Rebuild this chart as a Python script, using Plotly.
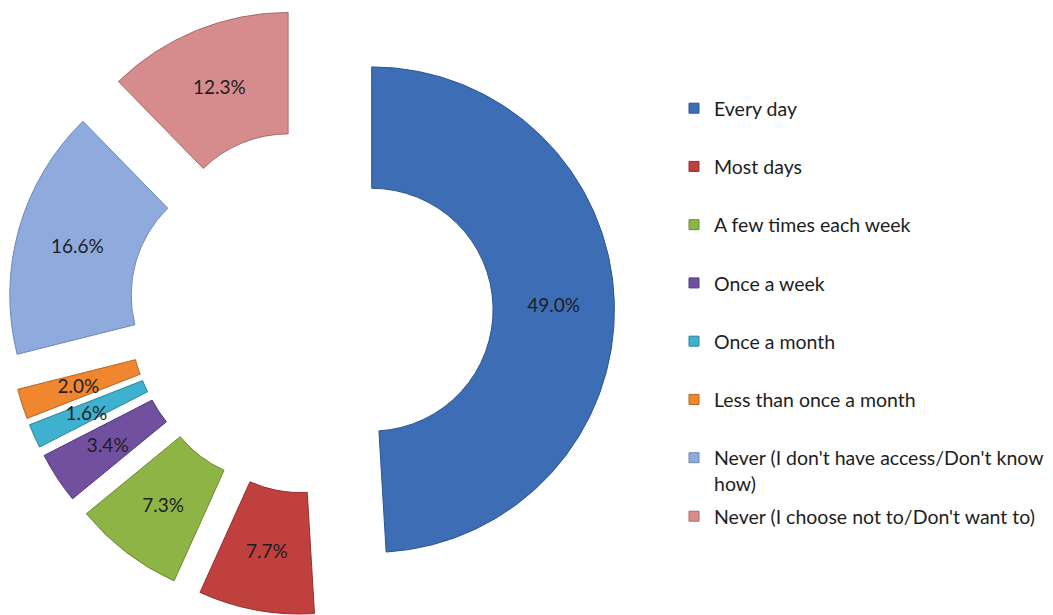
import plotly.graph_objects as go

# ---------------- data ----------------
categories = [
    "Every day",
    "Most days",
    "A few times each week",
    "Once a week",
    "Once a month",
    "Less than once a month",
    "Never (I don't have access/Don't know how)",
    "Never (I choose not to/Don't want to)",
]
legend_labels = [
    "Every day",
    "Most days",
    "A few times each week",
    "Once a week",
    "Once a month",
    "Less than once a month",
    "Never (I don't have access/Don't know<br>how)",
    "Never (I choose not to/Don't want to)",
]
values = [49.0, 7.7, 7.3, 3.4, 1.6, 2.0, 16.6, 12.3]
colors = ["#3D6EB5", "#BF403D", "#8DB444", "#7150A0",
          "#3DB1CD", "#F0872F", "#8FAADC", "#D68C8C"]
edge_colors = ["#2E5590", "#923130", "#6C8A33", "#55397D",
               "#2C869C", "#B86522", "#6F88B5", "#A86B6B"]

# ---------------- layout geometry ----------------
W, H = 1053, 615
M_T, M_B, M_L, M_R = 8, 0, 0, 0
PW, PH = W - M_L - M_R, H - M_T - M_B
CX = 311.0                     # pie centre (px)
PULL = 0.25
HOLE = 0.5
R_MAIN = PH / (2 + 2 * PULL)
PULL_PX = PULL * R_MAIN

# transparent overlay pie used only to place the labels of the thin slices mid-ring
R_TEXT = 195.0
HOLE_TEXT = 0.87
PULL_TEXT = PULL_PX / R_TEXT
S2 = 2 * R_TEXT * (1 + PULL_TEXT)

FONT = "Lato, 'Open Sans', sans-serif"
LABEL_SIZE = 19
LEGEND_SIZE = 19.5
TPL = "%{value:.1f}%"
wide = [v >= 10 for v in values]

fig = go.Figure()

fig.add_trace(go.Pie(
    labels=categories, values=values, sort=False, direction="clockwise",
    rotation=0, hole=HOLE, pull=[PULL] * len(values),
    marker=dict(colors=colors, line=dict(color=edge_colors, width=1)),
    texttemplate=[TPL if w else "" for w in wide], textposition="inside",
    insidetextorientation="horizontal",
    textfont=dict(family=FONT, size=LABEL_SIZE, color="#1E1E1E"),
    showlegend=False, hoverinfo="label+value",
    domain=dict(x=[(CX - PH / 2 - M_L) / PW, (CX + PH / 2 - M_L) / PW], y=[0, 1]),
))

fig.add_trace(go.Pie(
    labels=categories, values=values, sort=False, direction="clockwise",
    rotation=0, hole=HOLE_TEXT, pull=[PULL_TEXT] * len(values),
    marker=dict(colors=["rgba(0,0,0,0)"] * len(values), line=dict(width=0)),
    texttemplate=["" if w else TPL for w in wide], textposition="inside",
    insidetextorientation="horizontal",
    textfont=dict(family=FONT, size=LABEL_SIZE, color="#1E1E1E"),
    showlegend=False, hoverinfo="skip",
    domain=dict(x=[(CX - S2 / 2 - M_L) / PW, (CX + S2 / 2 - M_L) / PW],
                y=[0.5 - S2 / (2 * PH), 0.5 + S2 / (2 * PH)]),
))

# legend entries
for i, (lab, col, ec) in enumerate(zip(legend_labels, colors, edge_colors)):
    fig.add_trace(go.Scatter(
        x=[None], y=[None], mode="markers", name=lab,
        marker=dict(symbol="square", size=10, color=col, line=dict(color=ec, width=1)),
        legendgroup=f"g{i}", legend="legend" if i < 7 else "legend2",
        hoverinfo="skip",
    ))

LEG_LEFT = 674
LEG1_TOP = 89
LEG2_TOP = 497
leg_common = dict(
    xanchor="left", yanchor="top", bgcolor="rgba(0,0,0,0)", borderwidth=0,
    font=dict(family=FONT, size=LEGEND_SIZE, color="#1E1E1E"),
    itemwidth=30, valign="top", tracegroupgap=29.9,
)

fig.update_layout(
    width=W, height=H,
    margin=dict(l=M_L, r=M_R, t=M_T, b=M_B, pad=0),
    paper_bgcolor="white", plot_bgcolor="white",
    xaxis=dict(visible=False), yaxis=dict(visible=False),
    uniformtext=dict(minsize=LABEL_SIZE, mode="show"),
    legend=dict(x=(LEG_LEFT - M_L) / PW, y=1 - (LEG1_TOP - M_T) / PH, **leg_common),
    legend2=dict(x=(LEG_LEFT - M_L) / PW, y=1 - (LEG2_TOP - M_T) / PH, **leg_common),
    showlegend=True,
)

fig.write_html("out.html", config={"displayModeBar": False},
               post_script="document.body.style.margin='0';")
